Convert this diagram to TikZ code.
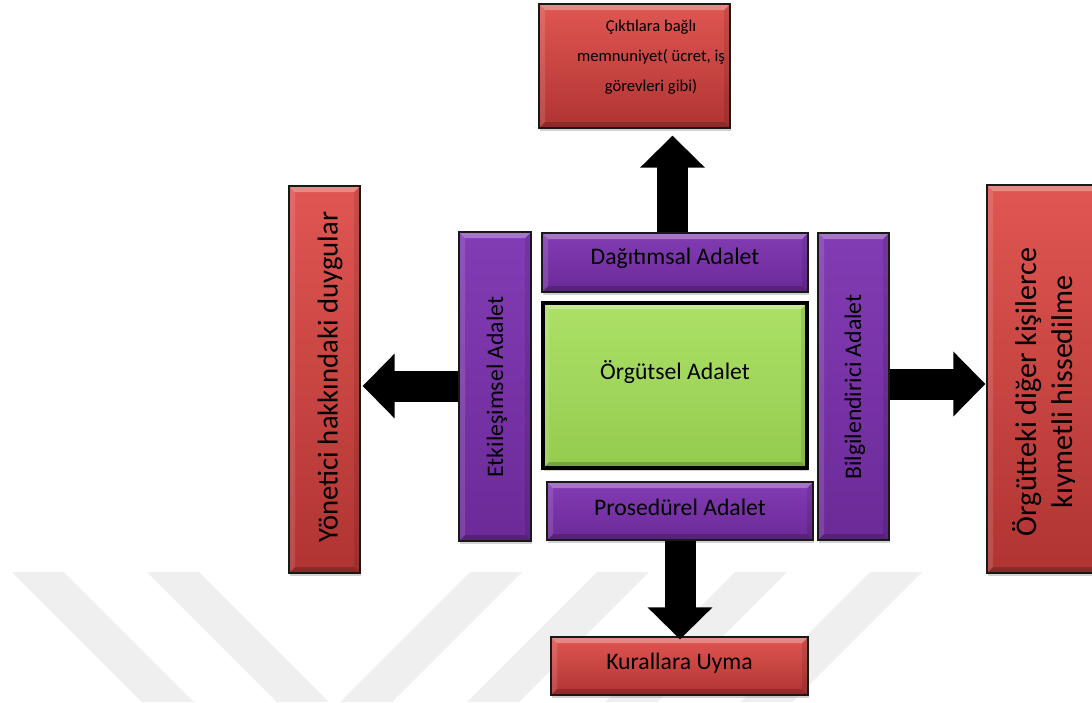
\documentclass[tikz,border=0pt]{standalone}
\usepackage{fontspec}
\setmainfont{Carlito}
\usetikzlibrary{calc,shadows,arrows.meta}

\definecolor{redtop}{RGB}{224,86,82}
\definecolor{redbot}{RGB}{176,52,50}
\definecolor{purtop}{RGB}{130,60,180}
\definecolor{purbot}{RGB}{108,42,152}
\definecolor{grntop}{RGB}{172,224,102}
\definecolor{grnbot}{RGB}{148,204,80}
\definecolor{wmark}{RGB}{239,239,239}

\tikzset{
  bevel/.style={path picture={
    \fill[white,opacity=.30] (path picture bounding box.north west) -- (path picture bounding box.north east)
      -- ($(path picture bounding box.north east)+(-6,6)$) -- ($(path picture bounding box.north west)+(6,6)$) -- cycle;
    \fill[white,opacity=.12] (path picture bounding box.north west) -- ($(path picture bounding box.north west)+(6,6)$)
      -- ($(path picture bounding box.south west)+(6,-6)$) -- (path picture bounding box.south west) -- cycle;
    \fill[black,opacity=.10] (path picture bounding box.north east) -- ($(path picture bounding box.north east)+(-6,6)$)
      -- ($(path picture bounding box.south east)+(-6,-6)$) -- (path picture bounding box.south east) -- cycle;
    \fill[black,opacity=.20] (path picture bounding box.south west) -- ($(path picture bounding box.south west)+(6,-6)$)
      -- ($(path picture bounding box.south east)+(-6,-6)$) -- (path picture bounding box.south east) -- cycle;
  }},
  box/.style={draw=black!90, line width=1.3pt, inner sep=0pt, bevel,
    drop shadow={opacity=0.35, shadow xshift=1pt, shadow yshift=-3pt}},
  redbox/.style={box, top color=redtop, bottom color=redbot},
  purbox/.style={box, top color=purtop, bottom color=purbot},
  grnbox/.style={box, line width=4.5pt, draw=black, top color=grntop, bottom color=grnbot},
  txt/.style={inner sep=0pt, text=black},
  midtxt/.style={txt, font=\fontsize{23.7}{28}\selectfont},
  blockarrow/.style={line width=31pt, black, -{Triangle[length=32pt,width=63pt]}},
  stripe/.style={fill=wmark},
}

\begin{document}
\begin{tikzpicture}[x=1pt,y=-1pt]
  \clip (0,0) rectangle (1092,702);
  \fill[white] (0,0) rectangle (1092,702);

  % faint diagonal watermark stripes along the lower edge
  \foreach \s in {12,147}
    \fill[stripe] (\s,572) -- (\s+52,572) -- (\s+182,702) -- (\s+130,702) -- cycle;
  \foreach \s in {470,597,735,870}
    \fill[stripe] (\s,572) -- (\s+52,572) -- (\s-78,702) -- (\s-130,702) -- cycle;

  % outcome boxes
  \node[redbox, minimum width=191pt, minimum height=124pt] (out) at (634.5,66) {};
  \node[txt, align=center, font=\fontsize{16.6}{30}\selectfont] (outt) at (651,57)
    {Çıktılara bağlı\\memnuniyet( ücret, iş\\görevleri gibi)};

  \node[redbox, minimum width=71pt, minimum height=387pt] (mgr) at (324.5,379.5) {};
  \node[txt, rotate=90, font=\fontsize{28.7}{35}\selectfont] (mgrt) at (330,377)
    {Yönetici hakkındaki duygular};

  \node[redbox, minimum width=120pt, minimum height=388pt] (val) at (1047,379) {};
  \begin{scope}
    \clip (987,185) rectangle (1074,573);
    \node[txt, rotate=90, align=center, font=\fontsize{30}{36}\selectfont] (valt) at (1045,392)
      {Örgütteki diğer kişilerce\\kıymetli hissedilme};
  \end{scope}

  \node[redbox, minimum width=257pt, minimum height=58pt] (kur) at (679.5,666) {};
  \node[midtxt] (kurt) at (679.5,663) {Kurallara Uyma};

  % justice dimensions around the core
  \node[purbox, minimum width=72pt, minimum height=309pt] (etk) at (495,386.5) {};
  \node[midtxt, rotate=90] (etkt) at (497,387) {Etkileşimsel Adalet};

  \node[purbox, minimum width=266pt, minimum height=59pt] (dag) at (675,262.5) {};
  \node[midtxt] (dagt) at (675,258) {Dağıtımsal Adalet};

  \node[purbox, minimum width=266pt, minimum height=58pt] (pros) at (680,511) {};
  \node[midtxt] (prost) at (680,507) {Prosedürel Adalet};

  \node[purbox, minimum width=71pt, minimum height=307pt] (bilg) at (853.5,386.5) {};
  \node[midtxt, rotate=90] (bilgt) at (855,387) {Bilgilendirici Adalet};

  \node[grnbox, minimum width=264pt, minimum height=165pt] (org) at (675,385.5) {};
  \node[midtxt] (orgt) at (675,372) {Örgütsel Adalet};

  % block arrows
  \coordinate (upx) at (672.5,0);
  \coordinate (lefty) at (0,386);
  \coordinate (righty) at (0,384);
  \draw[blockarrow] (dag.north -| upx) -- ($(out.south -| upx)+(0,7)$);
  \draw[blockarrow] (etk.west |- lefty) -- ($(mgr.east |- lefty)+(2,0)$);
  \draw[blockarrow] (bilg.east |- righty) -- ($(val.west |- righty)+(-1,0)$);
  \draw[blockarrow] (pros.south) -- ($(pros.south |- kur.north)+(0,3)$);
\end{tikzpicture}
\end{document}
